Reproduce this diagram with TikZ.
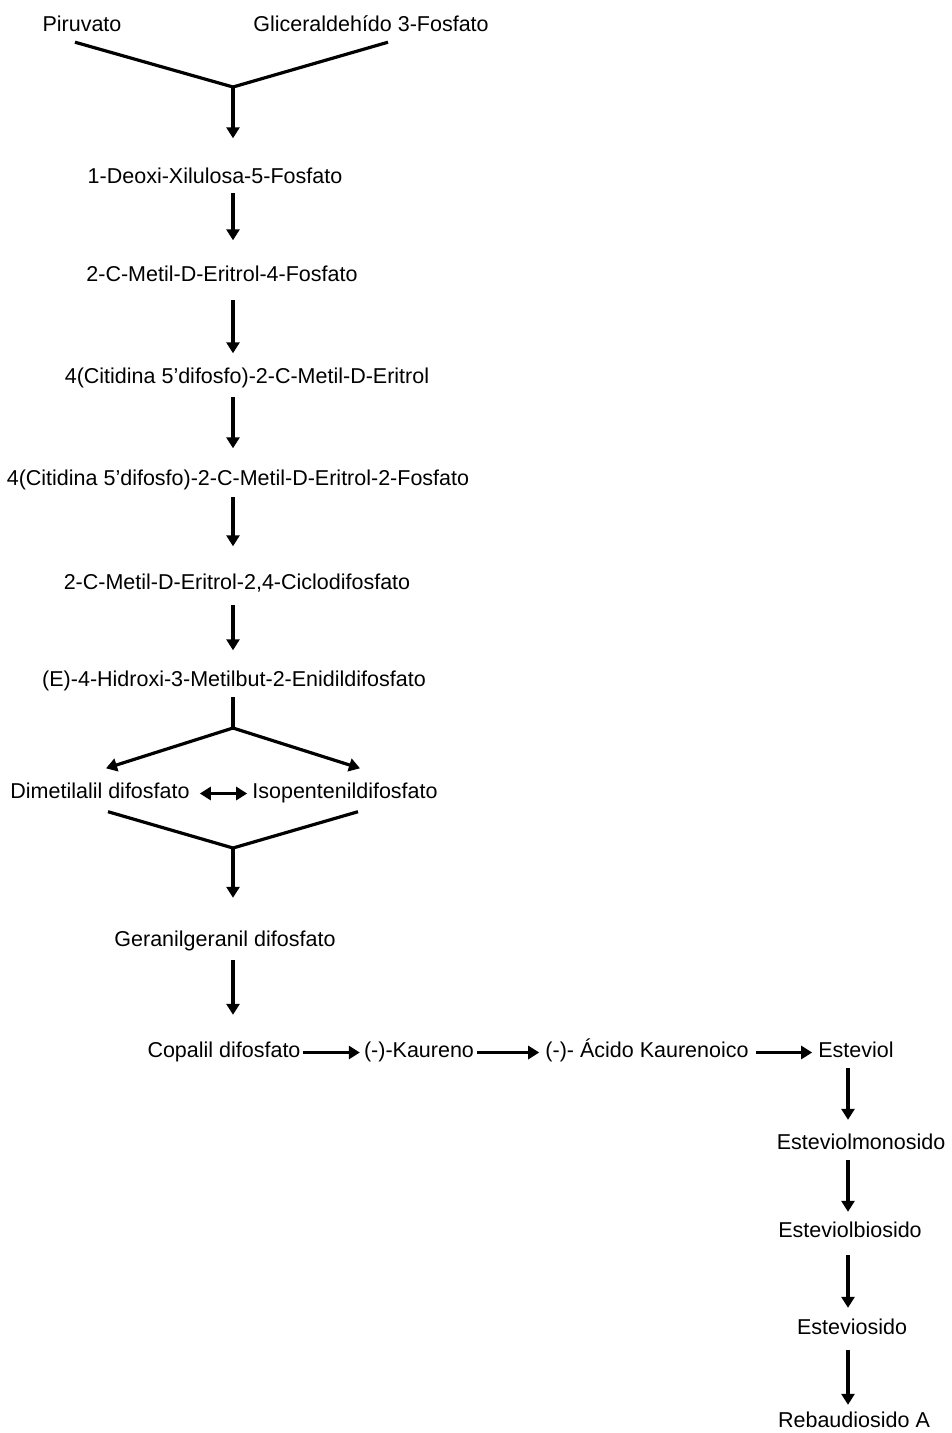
\documentclass[tikz,border=0pt]{standalone}
\usepackage{fontspec}
\setmainfont{Liberation Sans}
\usetikzlibrary{arrows.meta}
\begin{document}
\begin{tikzpicture}[x=1pt,y=-1pt,
  lbl/.style={inner sep=2pt, text height=15pt, text depth=4.5pt, font=\fontsize{21.5}{25}\selectfont},
  arr/.style={line width=3.2pt, -{Triangle[width=13pt,length=11pt]}},
  dbl/.style={line width=3.2pt, {Triangle[width=13pt,length=11pt]}-{Triangle[width=13pt,length=11pt]}},
  ln/.style={line width=3.2pt}]
\useasboundingbox (0,0) rectangle (951,1433);
% column of the main pathway
\node[lbl] (piru) at (82,26.5){Piruvato};
\node[lbl] (glic) at (371,26.5){Gliceraldehído 3-Fosfato};
\coordinate (j1) at (233,87);
\node[lbl] (deoxi) at (215,178.5){1-Deoxi-Xilulosa-5-Fosfato};
\node[lbl] (metil) at (222,276.5){2-C-Metil-D-Eritrol-4-Fosfato};
\node[lbl] (cit1) at (247,378.5){4(Citidina 5’difosfo)-2-C-Metil-D-Eritrol};
\node[lbl] (cit2) at (238,480.5){4(Citidina 5’difosfo)-2-C-Metil-D-Eritrol-2-Fosfato};
\node[lbl] (ciclo) at (237,584.5){2-C-Metil-D-Eritrol-2,4-Ciclodifosfato};
\node[lbl] (hidr) at (234,681.5){(E)-4-Hidroxi-3-Metilbut-2-Enidildifosfato};
\coordinate (j2) at (233,728);
\node[lbl] (dima) at (100,793.5){Dimetilalil difosfato};
\node[lbl] (isop) at (345,793.5){Isopentenildifosfato};
\coordinate (j3) at (233,848);
\node[lbl] (gera) at (225,941.5){Geranilgeranil difosfato};
\node[lbl] (copa) at (224,1052.5){Copalil difosfato};
\node[lbl] (kaur) at (419,1052.5){(-)-Kaureno};
\node[lbl] (acid) at (647,1052.5){(-)- Ácido Kaurenoico};
\node[lbl] (stev) at (856,1052.5){Esteviol};
\coordinate (cr) at (848,0);
\node[lbl] (mono) at (861,1144.5){Esteviolmonosido};
\node[lbl] (bios) at (850,1232.5){Esteviolbiosido};
\node[lbl] (stvs) at (852,1329.5){Esteviosido};
\node[lbl] (reba) at (854,1422.5){Rebaudiosido A};
% connectors
\draw[ln] ([shift={(-7,3.75)}]piru.south) -- (j1);
\draw[ln] ([shift={(17,3.75)}]glic.south) -- (j1);
\draw[arr, shorten >=28.25pt] (j1) -- (deoxi.north -| j1);
\draw[arr, shorten <=2.75pt, shorten >=24.25pt] (deoxi.south -| j1) -- (metil.north -| j1);
\draw[arr, shorten <=11.75pt, shorten >=13.25pt] (metil.south -| j1) -- (cit1.north -| j1);
\draw[arr, shorten <=6.75pt, shorten >=20.25pt] (cit1.south -| j1) -- (cit2.north -| j1);
\draw[arr, shorten <=4.75pt, shorten >=26.25pt] (cit2.south -| j1) -- (ciclo.north -| j1);
\draw[arr, shorten <=8.75pt, shorten >=19.25pt] (ciclo.south -| j1) -- (hidr.north -| j1);
\draw[ln, shorten <=3.75pt] (hidr.south -| j1) -- (j2);
\draw[arr] (j2) -- ([shift={(6,-13.25)}]dima.north);
\draw[arr] (j2) -- ([shift={(15,-13.25)}]isop.north);
\draw[dbl, shorten <=8pt, shorten >=3pt] (dima.east) -- (isop.west);
\draw[ln] ([shift={(8,6.25)}]dima.south) -- (j3);
\draw[ln] ([shift={(13,6.25)}]isop.south) -- (j3);
\draw[arr, shorten >=31.75pt] (j3) -- (gera.north -| j3);
\draw[arr, shorten <=6.75pt, shorten >=25.75pt] (gera.south -| j3) -- (copa.north -| j3);
\draw[arr, shorten >=2pt] (copa.east) -- (kaur.west);
\draw[arr, shorten <=1pt, shorten >=4pt] (kaur.east) -- (acid.west);
\draw[arr, shorten <=5pt, shorten >=4pt] (acid.east) -- (stev.west);
\draw[arr, shorten <=3.75pt, shorten >=12.75pt] (stev.south -| cr) -- (mono.north -| cr);
\draw[arr, shorten <=3.75pt, shorten >=8.75pt] (mono.south -| cr) -- (bios.north -| cr);
\draw[arr, shorten <=10.75pt, shorten >=9.75pt] (bios.south -| cr) -- (stvs.north -| cr);
\draw[arr, shorten <=8.75pt, shorten >=5.75pt] (stvs.south -| cr) -- (reba.north -| cr);
\end{tikzpicture}
\end{document}
